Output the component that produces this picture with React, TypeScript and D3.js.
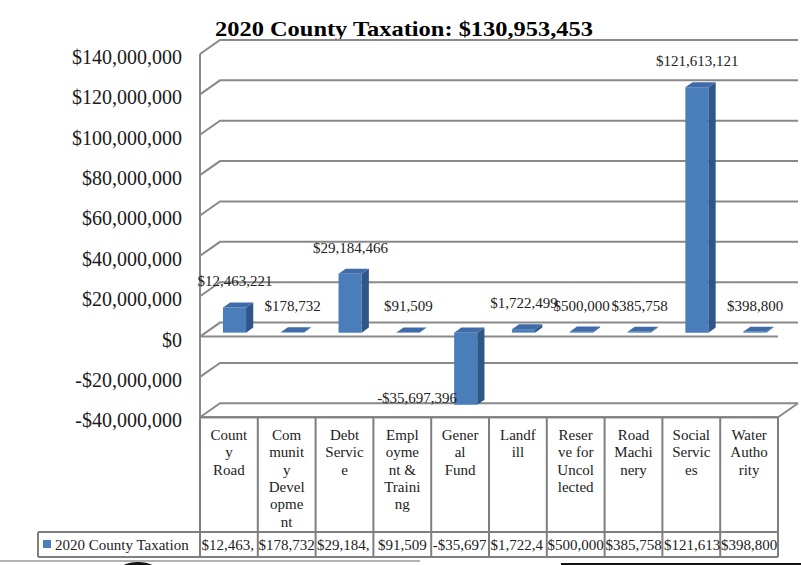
import React from "react";
import * as d3 from "d3";

const chartTitle = "2020 County Taxation: $130,953,453";
const seriesName = "2020 County Taxation";
const categories = [
  "County Road",
  "Community Development",
  "Debt Service",
  "Employment & Training",
  "General Fund",
  "Landfill",
  "Reserve for Uncollected",
  "Road Machinery",
  "Social Services",
  "Water Authority",
];
// how excel wrapped the names inside the narrow table cells
const categoryLines = [
  ["Count", "y", "Road"],
  ["Com", "munit", "y", "Devel", "opme", "nt"],
  ["Debt", "Servic", "e"],
  ["Empl", "oyme", "nt &", "Traini", "ng"],
  ["Gener", "al", "Fund"],
  ["Landf", "ill"],
  ["Reser", "ve for", "Uncol", "lected"],
  ["Road", "Machi", "nery"],
  ["Social", "Servic", "es"],
  ["Water", "Autho", "rity"],
];
const values = [12463221, 178732, 29184466, 91509, -35697396, 1722499, 500000, 385758, 121613121, 398800];
const yTicks = [-40e6, -20e6, 0, 20e6, 40e6, 60e6, 80e6, 100e6, 120e6, 140e6];

const W = 801, H = 565;
const FONT = "'Liberation Serif', 'Times New Roman', serif";
const DX = 20, DY = 14; // depth offset of the 3d box
const F_FRONT = 0.72, F_BACK = 0.36; // bar depth within box
const GRID = "#898989";
const BAR_FRONT = "#4a7ebb", BAR_SIDE = "#2f5689", BAR_TOP = "#3f6ca8";

const money = (v: number) => d3.format("$,.0f")(v).replace("\u2212", "-");

const x = d3.scaleBand<string>().domain(categories).range([200, 778]);
const yBack = d3.scaleLinear().domain([-40e6, 140e6]).range([403.3, 40]);

// point in the 3d box: xf = x on the front plane, f = 1 front, 0 back
const P = (xf: number, v: number, f: number): [number, number] => [xf + DX * (1 - f), yBack(v) + DY * f];
const poly = (pts: [number, number][]) => pts.map(p => p.join(",")).join(" ");

let ctx: CanvasRenderingContext2D | null = null;
const textWidth = (s: string, size: number) => {
  if (!ctx) ctx = document.createElement("canvas").getContext("2d");
  if (!ctx) return s.length * size * 0.5;
  ctx.font = `${size}px ${FONT}`;
  return ctx.measureText(s).width;
};

// excel cuts the cell text at whole characters
const fitCell = (s: string, max: number) => {
  let t = s;
  while (t.length > 1 && textWidth(t, 15) > max) t = t.slice(0, -1);
  return { text: t, cut: t !== s };
};

export default function App() {
  const bw = x.bandwidth();
  const left = x.range()[0], right = x.range()[1];
  const yMin = yTicks[0];
  const tableTop = P(left, yMin, 1)[1];
  const rowTop = 532, rowBottom = 557;

  return (
    <svg width={W} height={H} style={{ position: "absolute", left: 0, top: 0, background: "#fff" }} fontFamily={FONT}>
      <text x={404} y={36} textAnchor="middle" fontSize={22} fontWeight="bold" textLength={378} lengthAdjust="spacingAndGlyphs">
        {chartTitle}
      </text>

      {/* walls and gridlines */}
      {yTicks.map(t => {
        const a = P(left, t, 1), b = P(left, t, 0), c = P(right, t, 0);
        return (
          <g key={t}>
            <polyline points={poly([a, b, c])} fill="none" stroke={GRID} strokeWidth={2} />
            <text x={182} y={a[1] + 3} dy="0.35em" textAnchor="end" fontSize={20} fill="#1a1a1a">
              {money(t)}
            </text>
          </g>
        );
      })}
      <line x1={left} y1={P(left, yMin, 1)[1]} x2={left} y2={P(left, 140e6, 1)[1]} stroke={GRID} strokeWidth={2} />
      <polyline points={poly([P(left, 0, 1), P(right, 0, 1)])} fill="none" stroke={GRID} strokeWidth={2} />
      <polyline points={poly([P(left, yMin, 1), P(right, yMin, 1), P(right, yMin, 0)])} fill="none" stroke={GRID} strokeWidth={2} />

      {/* bars */}
      {categories.map((c, i) => {
        const v = values[i];
        const x0 = (x(c) as number) + bw * 0.3, x1 = x0 + bw * 0.4;
        const top = Math.max(v, 0), bot = Math.min(v, 0);
        return (
          <g key={c}>
            <polygon points={poly([P(x0, bot, F_FRONT), P(x1, bot, F_FRONT), P(x1, top, F_FRONT), P(x0, top, F_FRONT)])} fill={BAR_FRONT} />
            <polygon points={poly([P(x1, bot, F_FRONT), P(x1, bot, F_BACK), P(x1, top, F_BACK), P(x1, top, F_FRONT)])} fill={BAR_SIDE} />
            <polygon points={poly([P(x0, top, F_FRONT), P(x1, top, F_FRONT), P(x1, top, F_BACK), P(x0, top, F_BACK)])} fill={BAR_TOP} />
          </g>
        );
      })}

      {/* data labels */}
      {categories.map((c, i) => {
        const v = values[i];
        const x0 = (x(c) as number) + bw * 0.3;
        const p = P(x0, v, F_FRONT);
        if (v < 0) {
          return (
            <text key={c} x={p[0] + 3} y={p[1] - 2} textAnchor="end" fontSize={15} fill="#222">
              {money(v)}
            </text>
          );
        }
        return (
          <text key={c} x={(x(c) as number) + bw / 2 + 6} y={p[1] - 21} textAnchor="middle" fontSize={15} fill="#222">
            {money(v)}
          </text>
        );
      })}

      {/* data table */}
      <g stroke="#7f7f7f" strokeWidth={2} fill="none">
        <line x1={left} y1={tableTop} x2={right} y2={tableTop} />
        <line x1={38} y1={rowTop} x2={right} y2={rowTop} />
        <line x1={38} y1={rowBottom} x2={right} y2={rowBottom} />
        <line x1={38} y1={rowTop} x2={38} y2={rowBottom} />
        {categories.map(c => (
          <line key={c} x1={x(c) as number} y1={tableTop} x2={x(c) as number} y2={rowBottom} />
        ))}
        <line x1={right} y1={tableTop} x2={right} y2={rowBottom} />
      </g>
      {categories.map((c, i) => (
        <text key={c} textAnchor="middle" fontSize={15} fill="#222">
          {categoryLines[i].map((ln, j) => (
            <tspan key={j} x={(x(c) as number) + bw / 2} y={440 + j * 17.3}>
              {ln}
            </tspan>
          ))}
        </text>
      ))}
      <rect x={43} y={540} width={8} height={8} fill={BAR_FRONT} />
      <text x={55} y={550} fontSize={15} fill="#222">
        {seriesName}
      </text>
      {categories.map((c, i) => {
        const { text, cut } = fitCell(money(values[i]), bw - 1);
        const cx = x(c) as number;
        return (
          <text key={c} x={cut ? cx + 1.5 : cx + bw / 2} y={550} textAnchor={cut ? "start" : "middle"} fontSize={15} fill="#222">
            {text}
          </text>
        );
      })}

      {/* bits of the surrounding page at the crop edge */}
      <line x1={0} y1={561} x2={420} y2={561} stroke="#9a9a9a" strokeWidth={1.5} />
      <ellipse cx={138} cy={580} rx={24} ry={16} fill="none" stroke="#111" strokeWidth={4} />
      <polyline points="562,575 562,564 801,564" fill="none" stroke="#111" strokeWidth={2} />
    </svg>
  );
}
